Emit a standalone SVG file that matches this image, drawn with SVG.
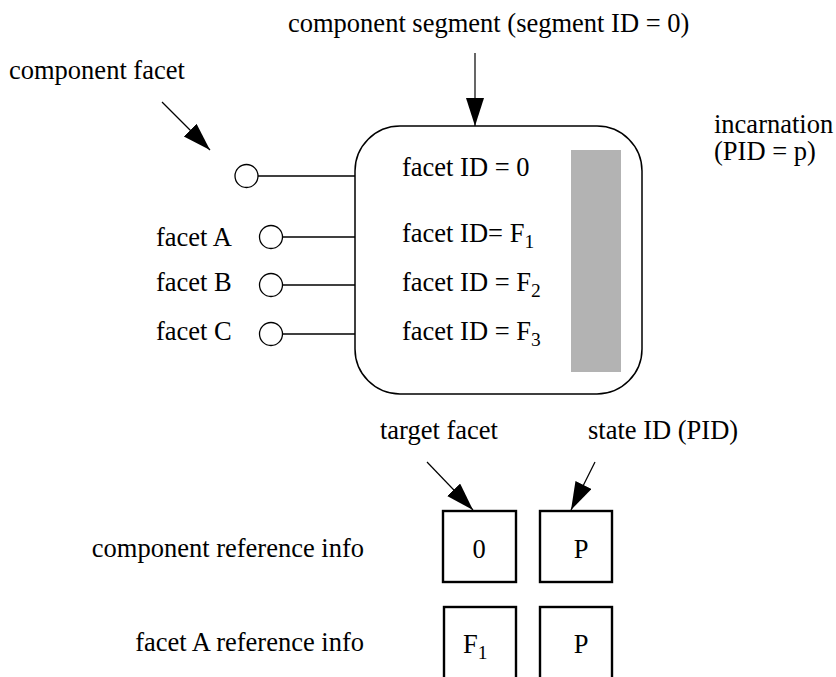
<svg xmlns="http://www.w3.org/2000/svg" width="836" height="677" viewBox="0 0 836 677">
<defs>
<style>
text{font-family:"Liberation Serif","Times New Roman",serif;font-size:26.5px;fill:#000}
.sub{font-size:19.5px}
.wire{stroke:#000;stroke-width:1.7;fill:none}
.arr{stroke:#000;stroke-width:1.2;fill:none;marker-end:url(#ah)}
.port{fill:#fff;stroke:#000;stroke-width:1.3}
.cell{fill:#fff;stroke:#000;stroke-width:2.4}
</style>
<marker id="ah" markerUnits="userSpaceOnUse" markerWidth="30" markerHeight="20" refX="28" refY="9" orient="auto">
<path d="M0,0 L28,9 L0,18 z" fill="#000"/>
</marker>
</defs>
<rect width="836" height="677" fill="#fff"/>

<g id="connectors">
<line class="arr" x1="475" y1="53" x2="475" y2="126"/>
<line class="arr" x1="162" y1="102" x2="210" y2="150"/>
<line class="arr" x1="427" y1="462" x2="473" y2="510"/>
<line class="arr" x1="595" y1="462" x2="571" y2="510"/>
<line class="wire" x1="258" y1="176" x2="355" y2="176"/>
<line class="wire" x1="283" y1="237" x2="380" y2="237"/>
<line class="wire" x1="283" y1="285" x2="380" y2="285"/>
<line class="wire" x1="283" y1="334" x2="380" y2="334"/>
</g>

<g id="segment-label"><text x="288" y="32">component segment (segment ID = 0)</text></g>
<g id="facet-label"><text x="9" y="79">component facet</text></g>

<g id="component">
<rect x="355" y="126" width="287" height="268" rx="45" ry="45" fill="#fff" stroke="#000" stroke-width="1.5"/>
<rect id="incarnation-bar" x="571" y="150" width="50" height="222" fill="#b3b3b3"/>
<text x="402" y="176">facet ID = 0</text>
<text x="402" y="242">facet ID= F<tspan class="sub" dy="6">1</tspan></text>
<text x="402" y="291">facet ID = F<tspan class="sub" dy="6">2</tspan></text>
<text x="402" y="340">facet ID = F<tspan class="sub" dy="6">3</tspan></text>
</g>

<g id="incarnation-label">
<text><tspan x="714" y="133">incarnation</tspan><tspan x="714" y="160">(PID = p)</tspan></text>
</g>

<g id="port-0"><circle class="port" cx="246.5" cy="176" r="11.5"/></g>
<g id="port-A"><text x="156" y="246">facet A</text><circle class="port" cx="271" cy="237" r="11.5"/></g>
<g id="port-B"><text x="156" y="291">facet B</text><circle class="port" cx="271" cy="285" r="11.5"/></g>
<g id="port-C"><text x="156" y="340">facet C</text><circle class="port" cx="271" cy="334" r="11.5"/></g>

<g id="ref-labels">
<text x="380" y="439">target facet</text>
<text x="588" y="439">state ID (PID)</text>
</g>

<g id="component-ref">
<text x="364" y="557" text-anchor="end">component reference info</text>
<rect class="cell" x="443" y="511" width="73" height="71"/>
<text x="479" y="558" text-anchor="middle">0</text>
<rect class="cell" x="540" y="511" width="72" height="71"/>
<text x="581" y="558" text-anchor="middle">P</text>
</g>

<g id="facetA-ref">
<text x="364" y="651" text-anchor="end">facet A reference info</text>
<rect class="cell" x="444" y="607" width="72" height="80"/>
<text x="463" y="653">F<tspan class="sub" dy="6">1</tspan></text>
<rect class="cell" x="540" y="607" width="72" height="80"/>
<text x="581" y="653" text-anchor="middle">P</text>
</g>
</svg>
